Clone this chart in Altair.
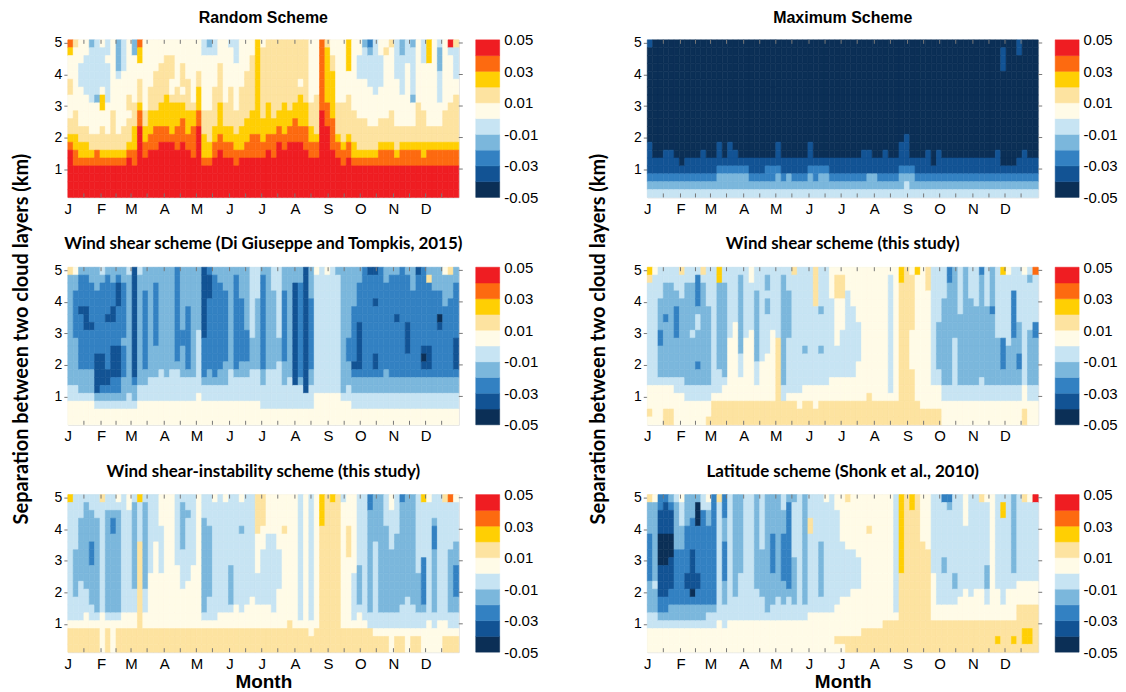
import altair as alt
import pandas as pd

# x axis: day of year, one cell per pentad; y axis: separation (km), 0.25 km layers from 0.1 to 5.1
MONTH_DAYS = [0, 31, 59, 90, 120, 151, 181, 212, 243, 273, 304, 334]
MONTH_LABELS = ["J", "F", "M", "A", "M", "J", "J", "A", "S", "O", "N", "D"]
HALF_MONTH_DAYS = [15, 45, 74, 105, 135, 166, 196, 227, 258, 288, 319, 349]
SEP_TICKS = [1, 2, 3, 4, 5]
SEP_TOP = 5.1
SEP_STEP = 0.25
PENTAD = 5

CLASS_EDGES = [-0.05, -0.04, -0.03, -0.02, -0.01, 0.0, 0.01, 0.02, 0.03, 0.04, 0.05]
CLASS_MIDS = [-0.045, -0.035, -0.025, -0.015, -0.005, 0.005, 0.015, 0.025, 0.035, 0.045]
CLASS_COLORS = ["#0b2f56", "#125394", "#3381c2", "#7bb7dc", "#c7e4f3",
                "#fffbe7", "#fde3a0", "#ffcf03", "#fd6a10", "#ef1d22"]
CBAR_LABELS = [-0.05, -0.03, -0.01, 0.01, 0.03, 0.05]

# each string = one pentad column, colour class (0..9) from the top layer (5.1 km) down to 0.1 km
RANDOM = [
    "8755566555 667899 9999", "6555555556 667788 9999", "5554445555 566778 9999",
    "5544444555 566778 9999", "3444444455 556678 9999", "4444444355 556688 9999",
    "5444445775 566678 9999", "4454444455 556678 9999", "5555555556 666678 9999",
    "3333455555 556678 9999", "4444555555 566678 9999", "5555555665 666789 9999",
    "3355555566 677788 9999", "8775566678 899999 9999", "5555555556 677889 9999",
    "5555556667 778899 9999", "5555666667 788899 9999", "5556666677 788999 9999",
    "5566666777 788999 9999", "5566655677 778999 9999", "5555556677 788899 9999",
    "5556665677 888999 9999", "5555566667 778899 9999", "5555555567 788889 9999",
    "5555667778 899999 9999", "4455555556 667778 9999", "3455555556 666778 9999",
    "4455556666 677889 9999", "5556666677 778899 9999", "5555555566 677889 9999",
    "4555556666 677889 9999", "4445555556 667788 9999", "5555556666 677789 9999",
    "5555666666 777889 9999", "5566666667 778889 9999", "7777777777 778889 9999",
    "5666666666 777889 9999", "6666666677 778899 9999", "6666666666 778889 9999",
    "6666666667 788999 9999", "6666666677 778899 9999", "6666666667 788999 9999",
    "6666666677 888999 9999", "6666656777 788999 9999", "6666666677 788899 9999",
    "5555555566 677889 9999", "5555555666 667889 9999", "8888888889 999999 9999",
    "6777777788 899999 9999", "5566777777 888899 9999", "5555555566 667889 9999",
    "5555555566 666788 9999", "7777555666 667889 9999", "5555555556 666778 9999",
    "5544455555 666678 9999", "3444455555 666678 9999", "2344445555 566678 9999",
    "4444444555 566678 9999", "5544445555 666788 9999", "5655555555 666788 9999",
    "6555555556 666788 9999", "4444455555 566678 9999", "3344444555 566788 9999",
    "4445555555 566788 9999", "3444444355 566788 9999", "5555555566 666788 9999",
    "4445555556 666778 9999", "7775555555 566788 9999", "5555555555 566788 9999",
    "4333444455 566788 9999", "5555555556 666788 9999", "9455555566 666788 9999",
    "6444455666 666788 9999",
]

MAXIMUM = [
    "100000000000 01111234", "000000000000 00011234", "000000000000 00011234",
    "000000000000 00111234", "000000000000 00111234", "000000000000 00011234",
    "000000000000 00001234", "000000000000 00011234", "000000000000 00011234",
    "000000000000 00011234", "000000000000 00111234", "000000000000 00011234",
    "000000000000 00011234", "000000000000 01112334", "000000000000 00012334",
    "000000000000 01112334", "000000000000 00112334", "000000000000 00012334",
    "000000000000 00012334", "000000000000 00011234", "000000000000 00011234",
    "000000000000 00011234", "000000000000 00012234", "000000000000 00012234",
    "000000000000 01112334", "000000000000 00011234", "000000000000 00011334",
    "000000000000 00011234", "000000000000 00011234", "000000000000 00011234",
    "000000000000 01112334", "000000000000 00012234", "000000000000 00012334",
    "000000000000 00012334", "000000000000 00011234", "000000000000 00011234",
    "000000000000 00011234", "000000000000 00011234", "000000000000 00011234",
    "000000000000 00011234", "000000000000 00111234", "000000000000 00111334",
    "000000000000 00011334", "000000000000 00011234", "000000000000 00111234",
    "000000000000 00011234", "000000000000 00011234", "000000000000 01112334",
    "000000000000 11112344", "000000000000 00012334", "000000000000 00011234",
    "000000000000 00011234", "000000000000 00111234", "000000000000 00001234",
    "000000000000 00111234", "000000000000 00011234", "000000000000 00011234",
    "000000000000 00011234", "000000000000 00011234", "000000000000 00011234",
    "000000000000 00011234", "000000000000 00011234", "000000000000 00011234",
    "000000000000 00011234", "000000000000 00011234", "000000000000 00111234",
    "011100000000 00001234", "000000000000 00001234", "000000000000 00001234",
    "110000000000 00011234", "000000000000 00111234", "000000000000 00011234",
    "000000000000 00011234",
]

WIND_SHEAR_DG = [
    "6333333333 3333344555", "5332222223 3333344555", "3222212222 2223334555",
    "3222211122 2223334555", "3322222122 2223334555", "3332222222 2111113455",
    "4322222222 2111123455", "3222221222 2221123455", "3322211222 1111223455",
    "3211122222 1111223455", "3322222223 2222333455", "4333333333 3333334455",
    "1111111111 1111233455", "4333333333 3333344555", "3332222222 2223344555",
    "3333333333 3333444555", "3322222222 3333444555", "3333333333 3334444555",
    "3333333333 3333444555", "3333333333 3334444555", "2222222222 2234444555",
    "3333333322 3333444555", "3333322222 2223444555", "3333333333 3333444555",
    "3333333344 4444445555", "1111111112 2222344555", "2111222222 2223344555",
    "3222222222 2222344555", "3322222222 2223344555", "3332222222 2233344555",
    "3333333333 3334444555", "3222222222 2223444555", "3333222222 2233444555",
    "3333333322 2233444555", "4444444443 3334444555", "4444333333 3334444555",
    "3222222222 2223344455", "3333333333 3334444455", "4443333333 3334444455",
    "4444444443 3344444455", "3332222222 2233344455", "3333333333 3333444455",
    "3311111111 1111144455", "3322222222 2222344455", "1111111111 1111114455",
    "3333222222 2223344455", "5444444444 4444445555", "4444444444 4444445555",
    "5444444444 4444445555", "4444444444 4444445555", "3444444444 4444445555",
    "3333333333 3333334555", "3333333332 2233344555", "3333322222 2212334455",
    "3322222111 1112334455", "2222222222 2222334455", "1222222222 2222334455",
    "1222122222 2112334455", "2222222222 2222334455", "3322222222 2223334455",
    "3222222222 2222334455", "3222221222 2222334455", "2222222222 2222334455",
    "3222222111 1222334455", "3332222222 2222334455", "1222222222 2222334455",
    "2222222222 1012334455", "3622222222 1112334455", "3332222222 2222334455",
    "3332220122 2222334455", "5333322222 2222334455", "6333222222 2222334455",
    "3322222221 1112334455",
]

WIND_SHEAR_THIS = [
    "7644444444 4444455565", "5444444444 4444455555", "4444333322 3333455555",
    "4433332333 3333455566", "4433333333 3333455566", "4443322223 3333445555",
    "6444333333 3333445555", "4433333333 3333344555", "4433333343 3333344555",
    "4222234433 3323344555", "6433333333 3333344555", "4444433333 3333344556",
    "4444444444 4444445666", "7733333333 3334445666", "4433333333 3333455666",
    "4444444445 5555555666", "4444444555 5555555666", "4333333333 3444555666",
    "4444444445 5555555666", "5544444455 5555555666", "4443333333 3344455666",
    "4444444444 4455555666", "4334334444 4555555666", "4444444455 5555555666",
    "4444444446 6666666666", "4333333333 3333344666", "4443333334 4444445666",
    "6444444444 4444445666", "4444444444 4444445566", "4444444444 3444455666",
    "4444444444 4444455666", "6666644444 4444455566", "4444434444 3444455666",
    "4444444444 4444455666", "5555444444 4444555666", "5666555555 4444555666",
    "5666555544 4444555666", "5554444444 4444555666", "5555544444 4444555666",
    "5555555444 4455555666", "5555555555 5555555666", "5555555555 5555556666",
    "5555555555 5555555666", "5555555555 5555555666", "5555555555 5555555666",
    "5444444444 4444445666", "5555555555 5555555666", "7766666666 6666666666",
    "6666666666 6666666666", "5666666655 5556666666", "7555555555 5555555666",
    "5555555555 5555555566", "6665555555 5555555566", "4444444444 4444455566",
    "4444444333 3334455566", "4444333333 3333344555", "2233333333 3333344555",
    "3333333334 4444444555", "4444443333 3333344555", "3333333333 3333344555",
    "4444333333 3333344555", "4444433333 3333344555", "2333333333 3333444555",
    "4444433333 3333344555", "3333323333 3333344555", "4444444443 3333344555",
    "7444444442 2223344555", "5444444444 3333344555", "4442222223 3333344555",
    "4444444333 3223344555", "5444444444 4444455566", "4344444433 3333344555",
    "8444444223 3333344555",
]

WIND_SHEAR_INSTAB = [
    "7444444444 4444445666", "4444444333 3334445666", "4443333333 3444445666",
    "4333333333 3344455666", "4433332223 3333445666", "4443333333 3333345666",
    "6444444444 4444455555", "4433333333 3333345666", "4432233333 3333345555",
    "5433333333 3333345666", "4444444444 4444455666", "5544444444 4444455666",
    "4333333333 3344455666", "7444446666 6666666666", "4333333333 3344455666",
    "4444444444 5555555666", "4444445555 5555555666", "5555444444 5555555666",
    "5555555555 5555555666", "5555555555 5555555666", "4444444445 5555555666",
    "4333333444 4455555666", "4434444444 4555555666", "4444444445 5555555666",
    "5555555555 5555555666", "4443333333 3333345666", "4444333333 3334445666",
    "5444444444 4444445666", "4444444444 4444455666", "5444444444 4444455666",
    "4444444443 3333455666", "4444444444 4444555666", "5444344444 4444455666",
    "4444444444 4444555666", "4444444444 4445555666", "6666655555 4444555666",
    "6666555444 4444555666", "5555544444 4444555666", "5555544444 4444455666",
    "5555555444 4455555666", "5555655555 5555555666", "5555555555 5555556666",
    "5555555555 5555555666", "4444444444 4444445666", "5555555555 5555555666",
    "4444444444 4444445566", "5555555555 5555555666", "7777666666 6666666666",
    "6666666666 6666666666", "7666666666 6666666666", "6666666666 6666666666",
    "4555555555 5555555666", "5555666655 5555555666", "5555555555 4444445666",
    "4444444443 3333455666", "4444444444 4444445666", "2233333333 3333344666",
    "3333334444 4444444566", "3333333333 3333344566", "4444333333 3333344566",
    "5544444333 3333344555", "4444433333 3333344566", "2333333333 3333444566",
    "3333333333 3334444555", "3333333333 3333444566", "4444444444 3333344566",
    "7444444422 2222344555", "5444444444 4444445555", "4443222333 3333344555",
    "4444444444 4444445555", "6444444444 4444445566", "8444444333 3333344566",
    "5444443332 2223344566",
]

LATITUDE = [
    "6333322222 2333344555", "5333333333 3433344555", "2211100001 1112234555",
    "2111100001 1112234555", "3211100011 1122334555", "4333333222 2222334555",
    "5444333222 2222334555", "3333222222 1122334555", "3332222111 1102334555",
    "3000222222 1122334555", "4422222222 2222334555", "5433222222 2222344555",
    "2222222222 2222344555", "6444444444 4444445555", "2223332222 2333444555",
    "4444444444 4444445555", "3333333333 3334445555", "3333333333 4444445555",
    "4444444444 4444445555", "4444444444 4444445555", "3333333333 3344445555",
    "4444444333 3334445555", "3333333333 3333345555", "3333322222 3333445555",
    "3333333333 3334445555", "4433322222 2333445555", "3222222222 2234445555",
    "3444444433 3333445555", "4444444444 4444445555", "3333333333 3333445555",
    "4446644444 4444455555", "4444444444 4444455555", "4444443333 3334455555",
    "5444444444 4444455555", "4444444444 4444455555", "5544444444 4444555565",
    "5555554444 4445555565", "6555555444 4445555566", "5555555444 4455555566",
    "5555555544 4455555566", "5555555555 5555555666", "5555655555 5555555666",
    "5555555555 5555555666", "5555555555 5555555666", "5555555555 5555556666",
    "5555555555 5555556666", "4444444444 4444456666", "7777777777 6666666666",
    "6666666666 6666666666", "7766666666 6666666666", "6666666666 6666666666",
    "5555556666 6666666666", "5555555666 6666666666", "4444444444 5555556666",
    "4444444444 4444556666", "2444444433 4444556666", "2344444444 4444556666",
    "4444444444 3344556666", "4444444444 4445556666", "5555444444 4455556666",
    "4444444444 4445556666", "4444444444 4455556666", "6444444444 4455556666",
    "5444444443 3344556666", "5555555555 5555556666", "4444444444 4455556676",
    "4774444444 4444556666", "4444444444 4455556666", "3333333333 4455556676",
    "4444444444 4555666666", "6444444444 4555666776", "5444444444 4555666776",
    "9444444444 4555666666",
]

W, H = 392, 158
CB_W = 24
SANS = "Liberation Sans"
CAL = "Lato"

MONTH_EXPR = "indexof({d}, datum.value) >= 0 ? {l}[indexof({d}, datum.value)] : ''".format(
    d=str(MONTH_DAYS), l=str(MONTH_LABELS))
CBAR_EXPR = "datum.value < 0 ? '-' + format(-datum.value, '.2f') : format(datum.value, '.2f')"

color_scale = alt.Scale(type="threshold", domain=CLASS_EDGES[1:-1], range=CLASS_COLORS)


def cells(columns):
    recs = []
    for i, col in enumerate(columns):
        codes = col.replace(" ", "")
        assert len(codes) == 20, (i, col)
        for r, ch in enumerate(codes):
            top = SEP_TOP - SEP_STEP * r
            recs.append({"d0": i * PENTAD, "d1": (i + 1) * PENTAD,
                         "z0": round(top - SEP_STEP, 2), "z1": round(top, 2),
                         "v": CLASS_MIDS[int(ch)]})
    return pd.DataFrame(recs)


def heatmap(columns, title, font, size, last):
    xs = alt.Scale(domain=[0, 365], nice=False, zero=False)
    ys = alt.Scale(domain=[0.1, 5.1], nice=False, zero=False)
    x_axis = alt.Axis(
        values=MONTH_DAYS, labelExpr=MONTH_EXPR, ticks=False, domain=False, grid=False,
        labelFlush=False, labelOverlap=False, labelPadding=4, labelFontSize=15,
        title="Month" if last else None, titleFontSize=19, titlePadding=1)
    y_axis = alt.Axis(
        values=SEP_TICKS, format="d", tickSize=4, tickColor="#777777", domain=False,
        grid=False, labelFontSize=14, labelPadding=2, labelFlush=False,
        labelOverlap=False, title=None)
    rect = alt.Chart(cells(columns)).mark_rect(strokeWidth=0.6).encode(
        x=alt.X("d0:Q", scale=xs, axis=x_axis),
        x2="d1:Q",
        y=alt.Y("z0:Q", scale=ys, axis=y_axis),
        y2="z1:Q",
        color=alt.Color("v:Q", scale=color_scale, legend=None),
        stroke=alt.Color("v:Q", scale=color_scale, legend=None),
    )
    ticks_x = pd.DataFrame({"d0": MONTH_DAYS[1:] + HALF_MONTH_DAYS})
    top = alt.Chart(ticks_x).mark_rule(color="#777777").encode(
        x=alt.X("d0:Q", scale=xs, axis=x_axis), y=alt.value(0), y2=alt.value(4))
    bottom = alt.Chart(ticks_x).mark_rule(color="#777777").encode(
        x=alt.X("d0:Q", scale=xs, axis=x_axis), y=alt.value(H - 4), y2=alt.value(H))
    right = alt.Chart(pd.DataFrame({"z0": SEP_TICKS})).mark_rule(color="#777777").encode(
        y=alt.Y("z0:Q", scale=ys, axis=y_axis), x=alt.value(W), x2=alt.value(W + 4))
    return alt.layer(rect, top, bottom, right).properties(
        width=W, height=H,
        title=alt.TitleParams(title, font=font, fontSize=size, fontWeight="bold",
                              color="black", offset=10, anchor="middle"))


def colorbar():
    df = pd.DataFrame({"lo": CLASS_EDGES[:-1], "hi": CLASS_EDGES[1:], "mid": CLASS_MIDS})
    return alt.Chart(df).mark_rect(strokeWidth=0.5).encode(
        x=alt.value(0), x2=alt.value(CB_W),
        y=alt.Y("lo:Q", scale=alt.Scale(domain=[-0.05, 0.05], nice=False, zero=False),
                axis=alt.Axis(orient="right", values=CBAR_LABELS, labelExpr=CBAR_EXPR,
                              ticks=False, domain=False, grid=False, labelPadding=4,
                              labelFontSize=15, labelFlush=False, labelOverlap=False,
                              title=None)),
        y2="hi:Q",
        color=alt.Color("mid:Q", scale=color_scale, legend=None),
        stroke=alt.Color("mid:Q", scale=color_scale, legend=None),
    ).properties(width=CB_W, height=H, view=alt.ViewBackground(stroke="transparent"))


def spacer(width, text="", x=0):
    return alt.Chart(pd.DataFrame({"label": [text]})).mark_text(
        angle=270, font=CAL, fontSize=20, fontWeight="bold", color="black",
        align="center", baseline="middle",
    ).encode(text="label:N", x=alt.value(x), y=alt.value(72)).properties(
        width=width, height=H, view=alt.ViewBackground(stroke="transparent"))


YTITLE = "Separation between two cloud layers (km)"
panels = [
    [heatmap(RANDOM, "Random Scheme", SANS, 16, False),
     heatmap(MAXIMUM, "Maximum Scheme", SANS, 16, False)],
    [heatmap(WIND_SHEAR_DG, "Wind shear scheme (Di Giuseppe and Tompkis, 2015)", CAL, 17, False),
     heatmap(WIND_SHEAR_THIS, "Wind shear scheme (this study)", CAL, 17, False)],
    [heatmap(WIND_SHEAR_INSTAB, "Wind shear-instability scheme (this study)", CAL, 17, True),
     heatmap(LATITUDE, "Latitude scheme (Shonk et al., 2010)", CAL, 17, True)],
]

charts = []
for r, (left, right) in enumerate(panels):
    mid = r == 1
    charts += [
        spacer(42, YTITLE if mid else "", 13),
        left,
        colorbar(),
        spacer(114, YTITLE if mid else "", 83),
        right,
        colorbar(),
    ]

chart = alt.concat(*charts, columns=6, spacing={"row": 70, "column": 17}, bounds="flush").properties(
    padding={"left": 0, "top": 0, "right": 0, "bottom": 0}
).configure_view(stroke="#8a8a8a", strokeWidth=1).configure_axis(
    labelFont=SANS, labelFontWeight="bold", labelColor="black",
    titleFont=CAL, titleFontWeight="bold", titleColor="black",
).configure(background="white")

chart.save("out.html", embed_options={"renderer": "svg", "actions": False})
